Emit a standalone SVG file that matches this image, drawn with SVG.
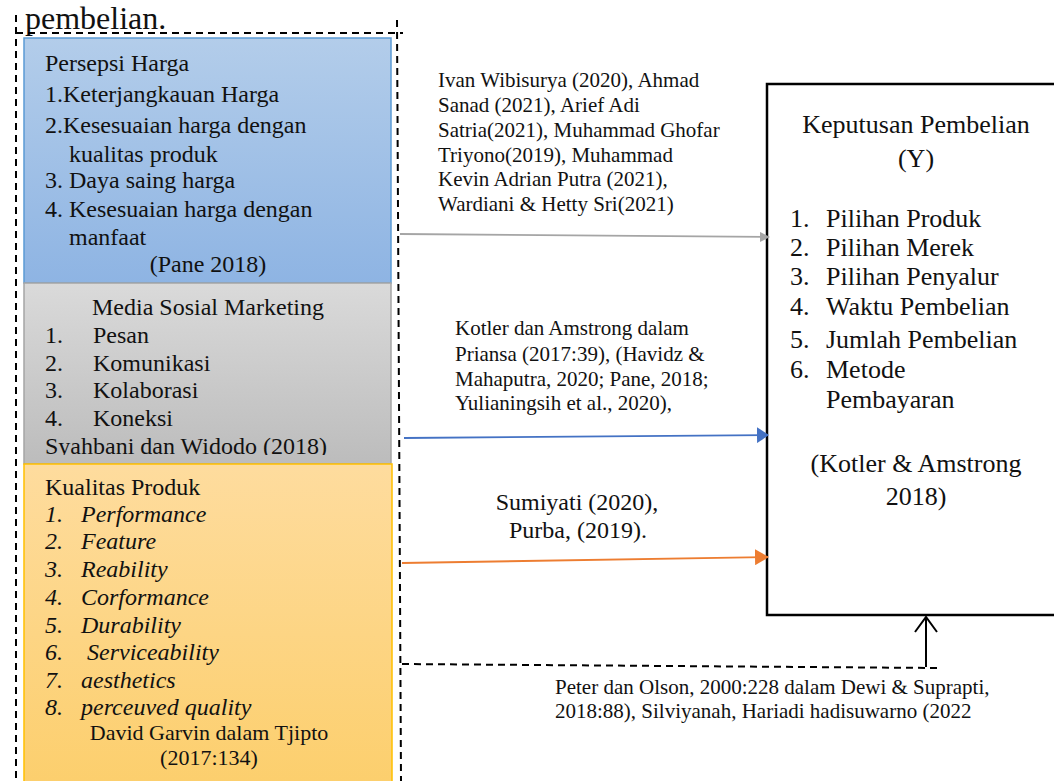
<svg xmlns="http://www.w3.org/2000/svg" width="1054" height="781" viewBox="0 0 1054 781">
<style>
text{font-family:"Liberation Serif","Times New Roman",serif;fill:#111}
.b{font-size:24px}
.i{font-size:24px;font-style:italic}
.r{font-size:26px}
.l{font-size:21px}
.o{font-size:24px}
.c{text-anchor:middle}
.dash{fill:none;stroke:#000;stroke-width:2;stroke-dasharray:7 5}
</style>
<defs>
<linearGradient id="gBlue" x1="0" y1="0" x2="0" y2="1"><stop offset="0" stop-color="#b3cdea"/><stop offset="1" stop-color="#8eb4e3"/></linearGradient>
<linearGradient id="gGray" x1="0" y1="0" x2="0" y2="1"><stop offset="0" stop-color="#dadada"/><stop offset="1" stop-color="#bcbcbc"/></linearGradient>
<linearGradient id="gOrange" x1="0" y1="0" x2="0" y2="1"><stop offset="0" stop-color="#fedc9e"/><stop offset="1" stop-color="#fcce6a"/></linearGradient>
<marker id="mGray" markerWidth="10" markerHeight="10" refX="9" refY="5" orient="auto" markerUnits="userSpaceOnUse"><path d="M0,0 L10,5 L0,10 Z" fill="#a5a5a5"/></marker>
<marker id="mBlue" markerWidth="12" markerHeight="16" refX="11" refY="8" orient="auto" markerUnits="userSpaceOnUse"><path d="M0,0 L12,8 L0,16 Z" fill="#4472c4"/></marker>
<marker id="mOrange" markerWidth="14" markerHeight="16" refX="13" refY="8" orient="auto" markerUnits="userSpaceOnUse"><path d="M0,0 L14,8 L0,16 Z" fill="#ed7d31"/></marker>
<clipPath id="clipGray"><rect x="24" y="283" width="367" height="172"/></clipPath>
</defs>
<rect width="1054" height="781" fill="#fff"/>

<text x="25" y="29" style="font-size:32px">pembelian.</text>

<g id="persepsi-harga">
<rect x="24" y="38" width="367" height="245" fill="url(#gBlue)" stroke="#5b9bd5" stroke-width="1.5"/>
<text class="b" x="45" y="71">Persepsi Harga</text>
<text class="b" x="45" y="102">1.Keterjangkauan Harga</text>
<text class="b" x="45" y="133">2.Kesesuaian harga dengan</text>
<text class="b" x="69" y="162">kualitas produk</text>
<text class="b" x="45" y="188">3. Daya saing harga</text>
<text class="b" x="45" y="217">4. Kesesuaian harga dengan</text>
<text class="b" x="69" y="245">manfaat</text>
<text class="b c" x="208" y="272">(Pane 2018)</text>
</g>

<g id="media-sosial">
<rect x="24" y="283" width="367" height="181" fill="url(#gGray)" stroke="#a5a5a5" stroke-width="1.5"/>
<g clip-path="url(#clipGray)">
<text class="b" x="92" y="315">Media Sosial Marketing</text>
<text class="b" x="45" y="343">1.</text><text class="b" x="93" y="343">Pesan</text>
<text class="b" x="45" y="371">2.</text><text class="b" x="93" y="371">Komunikasi</text>
<text class="b" x="45" y="398">3.</text><text class="b" x="93" y="398">Kolaborasi</text>
<text class="b" x="45" y="426">4.</text><text class="b" x="93" y="426">Koneksi</text>
<text class="b" x="45" y="454">Syahbani dan Widodo (2018)</text>
</g>
</g>

<g id="kualitas-produk">
<rect x="24" y="464" width="368" height="340" fill="url(#gOrange)" stroke="#ffc000" stroke-width="1.5"/>
<text class="b" x="45" y="495">Kualitas Produk</text>
<text class="i" x="45" y="522">1.</text><text class="i" x="81" y="522">Performance</text>
<text class="i" x="45" y="549">2.</text><text class="i" x="81" y="549">Feature</text>
<text class="i" x="45" y="577">3.</text><text class="i" x="81" y="577">Reability</text>
<text class="i" x="45" y="605">4.</text><text class="i" x="81" y="605">Corformance</text>
<text class="i" x="45" y="633">5.</text><text class="i" x="81" y="633">Durability</text>
<text class="i" x="45" y="660">6.</text><text class="i" x="87" y="660">Serviceability</text>
<text class="i" x="45" y="688">7.</text><text class="i" x="81" y="688">aesthetics</text>
<text class="i" x="45" y="715">8.</text><text class="i" x="81" y="715">perceuved quality</text>
<text class="b c" x="209" y="740" style="font-size:22px">David Garvin dalam Tjipto</text>
<text class="b c" x="209" y="765" style="font-size:22px">(2017:134)</text>
</g>

<g id="frame">
<line class="dash" x1="16" y1="15" x2="16" y2="781"/>
<line class="dash" x1="16" y1="33" x2="403" y2="33"/>
<line class="dash" x1="397" y1="20" x2="401" y2="781"/>
</g>

<g id="keputusan-pembelian">
<rect x="767" y="84" width="300" height="531" fill="#fff" stroke="#000" stroke-width="2.5"/>
<text class="r c" x="916" y="133">Keputusan Pembelian</text>
<text class="r c" x="916" y="167">(Y)</text>
<text class="r" x="790" y="227">1.</text><text class="r" x="826" y="227">Pilihan Produk</text>
<text class="r" x="790" y="256">2.</text><text class="r" x="826" y="256">Pilihan Merek</text>
<text class="r" x="790" y="285">3.</text><text class="r" x="826" y="285">Pilihan Penyalur</text>
<text class="r" x="790" y="315">4.</text><text class="r" x="826" y="315">Waktu Pembelian</text>
<text class="r" x="790" y="348">5.</text><text class="r" x="826" y="348">Jumlah Pembelian</text>
<text class="r" x="790" y="378">6.</text><text class="r" x="826" y="378">Metode</text>
<text class="r" x="826" y="408">Pembayaran</text>
<text class="r c" x="916" y="472">(Kotler &amp; Amstrong</text>
<text class="r c" x="916" y="505">2018)</text>
</g>

<g id="connectors">
<line x1="400" y1="234" x2="769" y2="237" stroke="#a5a5a5" stroke-width="1.8" marker-end="url(#mGray)"/>
<line x1="404" y1="438" x2="768" y2="435" stroke="#4472c4" stroke-width="1.8" marker-end="url(#mBlue)"/>
<line x1="402" y1="563" x2="768" y2="557" stroke="#ed7d31" stroke-width="1.8" marker-end="url(#mOrange)"/>
<line class="dash" x1="402" y1="664" x2="938" y2="668"/>
<line x1="926" y1="667" x2="926" y2="618" stroke="#000" stroke-width="2"/>
<path d="M915,632 L926,617 L937,632" fill="none" stroke="#000" stroke-width="2"/>
</g>

<g id="labels">
<text class="l" x="438" y="87">Ivan Wibisurya (2020), Ahmad</text>
<text class="l" x="438" y="112">Sanad (2021), Arief Adi</text>
<text class="l" x="438" y="137">Satria(2021), Muhammad Ghofar</text>
<text class="l" x="438" y="162">Triyono(2019), Muhammad</text>
<text class="l" x="438" y="186">Kevin Adrian Putra (2021),</text>
<text class="l" x="438" y="211">Wardiani &amp; Hetty Sri(2021)</text>
<text class="l" x="455" y="335">Kotler dan Amstrong dalam</text>
<text class="l" x="455" y="361">Priansa (2017:39), (Havidz &amp;</text>
<text class="l" x="455" y="386">Mahaputra, 2020; Pane, 2018;</text>
<text class="l" x="455" y="410">Yulianingsih et al., 2020),</text>
<text class="o c" x="577" y="510">Sumiyati (2020),</text>
<text class="o c" x="578" y="538">Purba, (2019).</text>
<text class="l" x="555" y="694">Peter dan Olson, 2000:228 dalam Dewi &amp; Suprapti,</text>
<text class="l" x="555" y="718">2018:88), Silviyanah, Hariadi hadisuwarno (2022</text>
</g>
</svg>
